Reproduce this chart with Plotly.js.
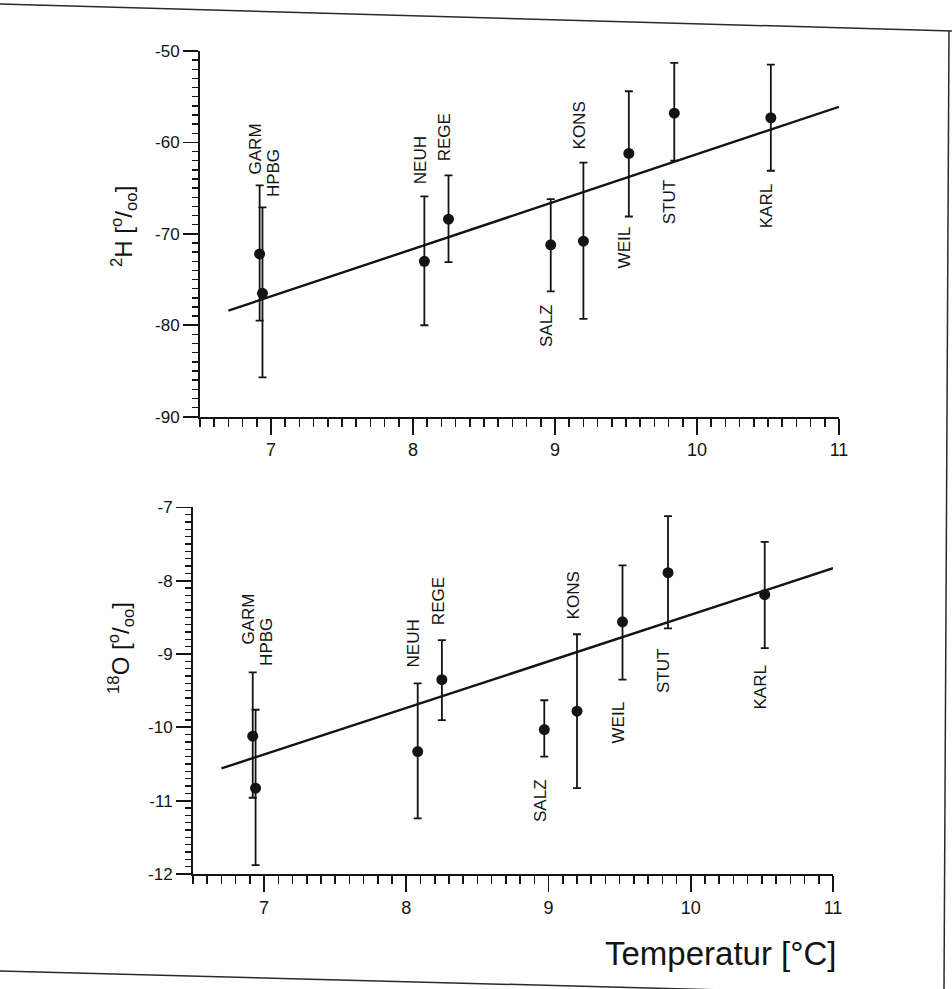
<!DOCTYPE html>
<html>
<head>
<meta charset="utf-8">
<script src="https://cdn.plot.ly/plotly-3.0.1.min.js"></script>
<style>
  html, body { margin: 0; padding: 0; background: #ffffff; }
  #chart { width: 952px; height: 989px; }
</style>
</head>
<body>
<div id="chart"></div>
<script>
// ---------------- data ----------------
const stations = ['GARM', 'HPBG', 'NEUH', 'REGE', 'SALZ', 'KONS', 'WEIL', 'STUT', 'KARL'];
const temperature = [6.92, 6.94, 8.08, 8.25, 8.97, 9.20, 9.52, 9.84, 10.52];

// delta 2H (per mil): mean, upper and lower end of the error bar
const d2H      = [-72.2, -76.5, -73.0, -68.4, -71.2, -70.8, -61.2, -56.8, -57.3];
const d2H_high = [-64.7, -67.1, -65.9, -63.6, -66.2, -62.2, -54.4, -51.3, -51.5];
const d2H_low  = [-79.5, -85.7, -80.0, -73.1, -76.3, -79.3, -68.1, -62.0, -63.1];

// delta 18O (per mil)
const d18O      = [-10.12, -10.83, -10.33, -9.35, -10.03, -9.78, -8.56, -7.89, -8.19];
const d18O_high = [-9.25, -9.76, -9.40, -8.81, -9.63, -8.73, -7.79, -7.12, -7.47];
const d18O_low  = [-10.96, -11.88, -11.24, -9.90, -10.40, -10.83, -9.35, -8.65, -8.92];

// regression lines (end points)
const fitTemp = [6.7, 11.0];
const fit2H   = [-78.4, -56.1];
const fit18O  = [-10.56, -7.83];

// where the station names sit (value on the y axis)
const label2H  = [-60.7, -63.3, -61.9, -59.5, -80.0, -58.1, -71.5, -66.5, -67.0];
const label18O = [-8.52, -8.84, -8.86, -8.28, -11.0, -8.2, -9.94, -9.23, -9.46];

// tick values and their printed labels (plain hyphen minus as in the figure)
const tempTicks = [7, 8, 9, 10, 11];
const tempTickText = ['7', '8', '9', '10', '11'];
const h2Ticks = [-90, -80, -70, -60, -50];
const h2TickText = ['-90', '-80', '-70', '-60', '-50'];
const o18Ticks = [-12, -11, -10, -9, -8, -7];
const o18TickText = ['-12', '-11', '-10', '-9', '-8', '-7'];

// ---------------- layout helpers ----------------
const M = { l: 193, r: 113, t: 51, b: 115 };
const PW = 952 - M.l - M.r, PH = 989 - M.t - M.b;
const px = p => (p - M.l) / PW;
const py = p => (989 - M.b - p) / PH;

const ink = '#141414';
const FONT = 'Liberation Sans, Arial, Helvetica, sans-serif';

function errPlus(v, hi) { return v.map((x, i) => hi[i] - x); }
function errMinus(v, lo) { return v.map((x, i) => x - lo[i]); }

const traces = [
  {
    x: temperature, y: d2H, xaxis: 'x', yaxis: 'y',
    type: 'scatter', mode: 'markers',
    marker: { color: ink, size: 11 },
    error_y: { type: 'data', symmetric: false,
      array: errPlus(d2H, d2H_high), arrayminus: errMinus(d2H, d2H_low),
      color: ink, thickness: 1.8, width: 4 },
    text: stations, hoverinfo: 'text+x+y'
  },
  {
    x: fitTemp, y: fit2H, xaxis: 'x', yaxis: 'y',
    type: 'scatter', mode: 'lines',
    line: { color: ink, width: 2.4 }, hoverinfo: 'skip'
  },
  {
    x: temperature, y: d18O, xaxis: 'x2', yaxis: 'y2',
    type: 'scatter', mode: 'markers',
    marker: { color: ink, size: 11 },
    error_y: { type: 'data', symmetric: false,
      array: errPlus(d18O, d18O_high), arrayminus: errMinus(d18O, d18O_low),
      color: ink, thickness: 1.8, width: 4 },
    text: stations, hoverinfo: 'text+x+y'
  },
  {
    x: fitTemp, y: fit18O, xaxis: 'x2', yaxis: 'y2',
    type: 'scatter', mode: 'lines',
    line: { color: ink, width: 2.4 }, hoverinfo: 'skip'
  }
];

function xAxis(domain, anchor) {
  return {
    domain: domain, anchor: anchor, range: [6.5, 11],
    tickmode: 'array', tickvals: tempTicks, ticktext: tempTickText,
    ticks: 'outside', ticklen: 16, tickwidth: 1.8, tickcolor: ink,
    showline: true, linecolor: ink, linewidth: 2,
    showgrid: false, zeroline: false,
    tickfont: { family: FONT, size: 18, color: ink },
    minor: { tickmode: 'linear', tick0: 6.5, dtick: 0.1, ticks: 'outside', ticklen: 8, tickwidth: 1.5, tickcolor: ink, showgrid: false }
  };
}
function yAxis(domain, anchor, range, vals, text, minor) {
  return {
    domain: domain, anchor: anchor, range: range,
    tickmode: 'array', tickvals: vals, ticktext: text,
    ticks: 'outside', ticklen: 15, tickwidth: 1.8, tickcolor: ink,
    showline: true, linecolor: ink, linewidth: 2,
    showgrid: false, zeroline: false,
    tickfont: { family: FONT, size: 17, color: ink },
    minor: { tickmode: 'linear', tick0: range[0], dtick: minor, ticks: 'outside', ticklen: 6, tickwidth: 1.5, tickcolor: ink, showgrid: false }
  };
}

const annotations = [];
stations.forEach((s, i) => {
  const shift = s === 'HPBG' ? 11 : -4;
  annotations.push({
    x: temperature[i], y: label2H[i], xref: 'x', yref: 'y',
    text: s, textangle: -90, showarrow: false, xshift: shift,
    xanchor: 'center', yanchor: 'middle',
    font: { family: FONT, size: 17, color: ink }
  });
  annotations.push({
    x: temperature[i], y: label18O[i], xref: 'x2', yref: 'y2',
    text: s, textangle: -90, showarrow: false, xshift: shift,
    xanchor: 'center', yanchor: 'middle',
    font: { family: FONT, size: 17, color: ink }
  });
});

// axis titles
annotations.push({
  x: px(124), y: py(227), xref: 'paper', yref: 'paper',
  text: '<sup>2</sup>H [<sup>o</sup>/<sub>oo</sub>]', textangle: -90, showarrow: false,
  xanchor: 'center', yanchor: 'middle',
  font: { family: FONT, size: 24, color: ink }
});
annotations.push({
  x: px(121), y: py(648), xref: 'paper', yref: 'paper',
  text: '<sup>18</sup>O [<sup>o</sup>/<sub>oo</sub>]', textangle: -90, showarrow: false,
  xanchor: 'center', yanchor: 'middle',
  font: { family: FONT, size: 24, color: ink }
});
annotations.push({
  x: px(838), y: py(953), xref: 'paper', yref: 'paper',
  text: 'Temperatur [°C]', showarrow: false,
  xanchor: 'right', yanchor: 'middle',
  font: { family: FONT, size: 33, color: ink }
});

// scanned page frame
const frame = { color: '#2a2a2a', width: 1.5 };
const shapes = [
  { type: 'line', xref: 'paper', yref: 'paper', x0: px(0), y0: py(4), x1: px(952), y1: py(31), line: frame },
  { type: 'line', xref: 'paper', yref: 'paper', x0: px(949), y0: py(31), x1: px(944), y1: py(989), line: frame },
  { type: 'line', xref: 'paper', yref: 'paper', x0: px(0), y0: py(971), x1: px(952), y1: py(996), line: frame }
];

const layout = {
  width: 952, height: 989,
  margin: M,
  paper_bgcolor: '#ffffff', plot_bgcolor: 'rgba(0,0,0,0)',
  showlegend: false,
  xaxis: xAxis([7 / PW, 1], 'y'),
  yaxis: yAxis([(874 - 416.7) / PH, 1], 'x', [-90, -50], h2Ticks, h2TickText, 1),
  xaxis2: xAxis([0, 640 / PW], 'y2'),
  yaxis2: yAxis([0, (874 - 507.4) / PH], 'x2', [-12, -7], o18Ticks, o18TickText, 0.1),
  annotations: annotations,
  shapes: shapes,
  font: { family: FONT, color: ink }
};

Plotly.newPlot('chart', traces, layout, { displayModeBar: false, staticPlot: true });
</script>
</body>
</html>
